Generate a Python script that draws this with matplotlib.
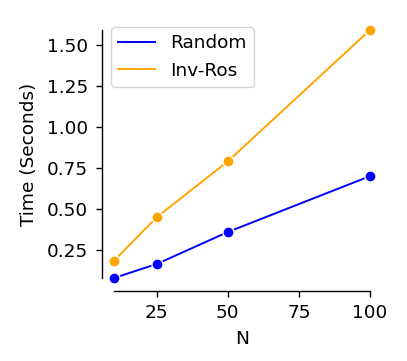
import numpy as np
import matplotlib as mpl
mpl.rcParams.update({'font.size': 13.3})
from matplotlib import pyplot as plt

N = [10, 25, 50, 100]
time_random = [0.08, 0.165, 0.36, 0.70]
time_invros = [0.185, 0.45, 0.79, 1.59]
x_ticks = [25, 50, 75, 100]
y_ticks = [0.25, 0.50, 0.75, 1.00, 1.25, 1.50]


def plot_times():
    fig = plt.figure(figsize=(4.07, 3.61), dpi=100)
    ax = fig.add_axes([114/407, 83/361, 256/407, 248/361])

    for vals, color, label in [(time_random, 'blue', 'Random'),
                               (time_invros, 'orange', 'Inv-Ros')]:
        ax.plot(N, vals, color=color, lw=1.4, label=label)
        ax.plot(N, vals, 'o', color=color, ms=8, mec='white', mew=1.0, clip_on=False)

    ax.set_xlim(min(N), max(N))
    ax.set_ylim(min(time_random), max(time_invros))
    ax.set_xticks(x_ticks)
    ax.set_yticks(y_ticks)
    ax.tick_params(length=4.2, width=1.0, pad=5.5)
    ax.set_xlabel("N", labelpad=6)
    ax.set_ylabel("Time (Seconds)", labelpad=6.5)

    ax.spines['right'].set_visible(False)
    ax.spines['top'].set_visible(False)
    ax.spines['left'].set_position(('outward', 9))
    ax.spines['bottom'].set_position(('outward', 9))
    for s in ['left', 'bottom']:
        ax.spines[s].set_linewidth(1.0)

    ax.legend(loc='upper left', bbox_to_anchor=(-0.012, 1.012), borderaxespad=0)
    return fig


def main():
    fig = plot_times()
    fig.savefig("out.png", dpi=100)


if __name__ == '__main__':
    main()
